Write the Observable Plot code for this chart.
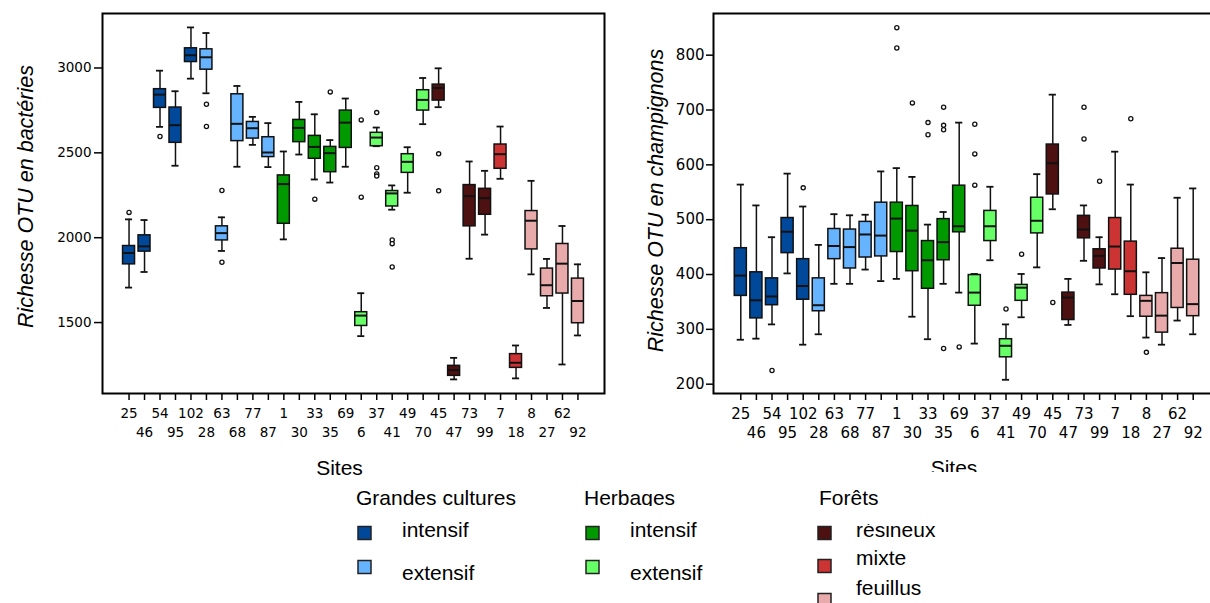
<!DOCTYPE html>
<html><head><meta charset="utf-8">
<script src="https://cdn.jsdelivr.net/npm/d3@7"></script>
<script src="https://cdn.jsdelivr.net/npm/@observablehq/plot@0.6"></script>
<style>
body{margin:0;background:#fff;}
#wrap{position:relative;width:1210px;height:603px;overflow:hidden;background:#fff;}
#left{position:absolute;left:0;top:0;width:620px;}
#right{position:absolute;left:630px;top:0;width:600px;}
#legend{position:absolute;left:0;top:0;}
</style></head><body>
<div id="wrap"><div id="left"></div><div id="right"></div><svg id="legend" width="1210" height="603"></svg></div>
<script>
// ---------- categories ----------
const sites = ["25","46","54","95","102","28","63","68","77","87","1","30","33","35","69","6","37","41","49","70","45","47","73","99","7","18","8","27","62","92"];
const groups = ["gc_int","gc_int","gc_int","gc_int","gc_int","gc_ext","gc_ext","gc_ext","gc_ext","gc_ext",
                "h_int","h_int","h_int","h_int","h_int","h_ext","h_ext","h_ext","h_ext","h_ext",
                "f_res","f_res","f_res","f_res","f_mix","f_mix","f_feu","f_feu","f_feu","f_feu"];
const groupKeys = ["gc_int","gc_ext","h_int","h_ext","f_res","f_mix","f_feu"];
const groupColors = ["#00489a","#66b3ff","#009900","#66ff66","#4d1111","#cc3333","#e8aaaa"];
const legendTitles = ["Grandes cultures","Herbages","Forêts"];
const legendLabels = [["intensif","extensif"],["intensif","extensif"],["résineux","mixte","feuillus"]];

// ---------- bacteria (left panel) ----------
const bacLo  = [1706,1798,2653,2424,2937,2851,1922,2418,2547,2416,1990,2490,2343,2325,2418,1420,2539,2165,2265,2669,2769,1165,1876,2018,2347,1171,1784,1586,1253,1424];
const bacQ1  = [1843,1918,2765,2559,3035,2990,1984,2569,2584,2475,2082,2563,2465,2386,2529,1480,2539,2184,2382,2749,2808,1186,2067,2135,2406,1233,1931,1655,1671,1496];
const bacMed = [1910,1949,2843,2663,3075,3063,2027,2671,2645,2502,2316,2647,2535,2498,2678,1541,2590,2261,2447,2812,2882,1220,2245,2233,2492,1263,2100,1720,1847,1627];
const bacQ3  = [1951,2014,2875,2767,3116,3110,2067,2845,2682,2592,2367,2694,2600,2535,2749,1561,2618,2275,2492,2869,2902,1245,2310,2288,2549,1314,2157,1818,1963,1759];
const bacHi  = [2108,2104,2984,2863,3239,3206,2120,2894,2712,2675,2508,2800,2727,2575,2820,1673,2649,2308,2533,2941,2998,1292,2449,2394,2655,1365,2335,1875,2069,1843];
const bacOut = [[2149],[],[2596],[],[],[2786,2655],[2278,1855],[],[],[],[],[],[2227],[2859],[],[2694,2239],[2737,2412,2376,2363],[1986,1965,1827],[],[],[2494,2276],[],[],[],[],[],[],[],[],[]];
const bacTicks = [1500,2000,2500,3000];

// ---------- fungi (right panel) ----------
const funLo  = [281,283,309,402,272,291,383,383,409,388,392,323,282,383,367,274,426,208,322,413,519,308,425,382,364,324,285,272,316,291];
const funQ1  = [361,320,344,439,354,333,428,411,431,433,441,406,374,426,477,343,461,249,352,475,546,317,466,411,409,363,323,294,339,324];
const funMed = [398,353,360,478,379,344,452,450,473,471,502,480,426,459,488,367,488,270,376,498,603,358,482,434,451,406,352,325,421,346];
const funQ3  = [448,404,393,503,428,393,483,482,496,531,531,525,461,501,562,399,516,282,381,540,637,367,507,446,503,460,361,366,447,427];
const funHi  = [564,526,468,584,524,454,510,508,509,588,594,578,491,514,677,401,560,309,401,583,728,392,526,468,624,564,404,430,540,557];
const funOut = [[],[],[225],[],[558],[],[],[],[],[],[850,813],[713],[677,655],[705,672,664,265],[268],[674,620,563],[],[337],[437],[],[349],[],[705,647],[570],[],[684],[258],[],[],[]];
const funTicks = [200,300,400,500,600,700,800];

function panel(o) {
  const rows = sites.map((s,i)=>({site:s, group:groups[i], lo:o.lo[i], q1:o.q1[i], med:o.med[i], q3:o.q3[i], hi:o.hi[i]}));
  const outs = sites.flatMap((s,i)=>o.out[i].map(v=>({site:s, v})));
  const even = sites.filter((d,i)=>i%2===0), odd = sites.filter((d,i)=>i%2===1);
  const ink = "#111";
  return Plot.plot({
    width:o.width, height:o.height, marginLeft:o.mL, marginRight:o.mR, marginTop:13, marginBottom:o.mB,
    style:{fontFamily:"DejaVu Sans", fontSize:o.fs+"px", color:"#000", background:"transparent", maxWidth:"none"},
    x:{type:"band", domain:sites, paddingInner:0, paddingOuter:o.po, round:false, axis:null},
    y:{domain:o.yDomain, axis:null},
    color:{type:"ordinal", domain:groupKeys, range:groupColors},
    marks:[
      Plot.ruleX(rows,{x:"site", y1:"q3", y2:"hi", stroke:ink, strokeWidth:1.5}),
      Plot.ruleX(rows,{x:"site", y1:"lo", y2:"q1", stroke:ink, strokeWidth:1.5}),
      Plot.tickY(rows,{x:"site", y:"hi", stroke:ink, strokeWidth:1.8, insetLeft:4.2, insetRight:4.2}),
      Plot.tickY(rows,{x:"site", y:"lo", stroke:ink, strokeWidth:1.8, insetLeft:4.2, insetRight:4.2}),
      Plot.barY(rows,{x:"site", y1:"q1", y2:"q3", fill:"group", stroke:ink, strokeWidth:1.5, insetLeft:1.75, insetRight:1.75}),
      Plot.tickY(rows,{x:"site", y:"med", stroke:ink, strokeWidth:2, insetLeft:1.75, insetRight:1.75}),
      Plot.dot(outs,{x:"site", y:"v", r:2.1, stroke:ink, fill:"white", strokeWidth:1.3}),
      Plot.frame({stroke:"#000", strokeWidth:2}),
      Plot.axisY(o.ticks,{anchor:"left", tickSize:o.ytick, tickPadding:o.ypad, tickFormat:d=>String(d), label:null, strokeWidth:1.5}),
      Plot.axisX(even,{anchor:"bottom", tickSize:7, tickPadding:8, label:null, strokeWidth:1.5}),
      Plot.axisX(odd,{anchor:"bottom", tickSize:7, tickPadding:27, label:null, strokeWidth:1.5}),
      Plot.text([o.yLabel],{text:d=>d, frameAnchor:"left", textAnchor:"middle", rotate:-90, dx:o.ydx, dy:o.ydy, fontFamily:"Liberation Sans", fontStyle:"italic", fontSize:21.5, lineAnchor:"middle", fill:"#000"}),
      Plot.text(["Sites"],{text:d=>d, frameAnchor:"bottom", textAnchor:"middle", dx:o.sdx, dy:74.3, fontFamily:"Liberation Sans", fontSize:21, lineAnchor:"middle", fill:"#000"})
    ]
  });
}

document.getElementById("left").append(panel({
  lo:bacLo, q1:bacQ1, med:bacMed, q3:bacQ3, hi:bacHi, out:bacOut, ticks:bacTicks,
  yDomain:[1082,3321], width:620, height:480, mL:102, mR:16, mB:87, po:1.215,
  fs:13.5, ytick:8, ypad:3, yLabel:"Richesse OTU en bactéries", ydx:-76, ydy:-7, sdx:-14
}));
document.getElementById("right").append(panel({
  lo:funLo, q1:funQ1, med:funMed, q3:funQ3, hi:funHi, out:funOut, ticks:funTicks,
  yDomain:[183,876], width:600, height:472, mL:83, mR:10, mB:79, po:1.25,
  fs:15, ytick:7, ypad:2, yLabel:"Richesse OTU en champignons", ydx:-57, ydy:-3, sdx:-13
}));

// ---------- legend ----------
const leg = d3.select("#legend");
const defs = leg.append("defs");
defs.append("clipPath").attr("id","clipH").append("rect").attr("x",560).attr("y",470).attr("width",160).attr("height",36);
defs.append("clipPath").attr("id","clipR").append("rect").attr("x",840).attr("y",524).attr("width",140).attr("height",40);
const cols = [
  {tx:356, sqx:358, lx:402, rows:[[526.5,537],[560.5,580]], keys:[0,1]},
  {tx:584, sqx:586, lx:630, rows:[[526.5,537],[560.5,580]], keys:[2,3]},
  {tx:819, sqx:818, lx:856, rows:[[526.5,537],[559.5,565],[593.5,595]], keys:[4,5,6]}
];
cols.forEach((c,ci)=>{
  const t = leg.append("text").attr("x",c.tx).attr("y",505).attr("font-family","Liberation Sans").attr("font-size",21).attr("fill","#000").text(legendTitles[ci]);
  if (ci===1) t.attr("clip-path","url(#clipH)");
  c.keys.forEach((k,ri)=>{
    leg.append("rect").attr("x",c.sqx).attr("y",c.rows[ri][0]).attr("width",13).attr("height",13)
      .attr("fill",groupColors[k]).attr("stroke","#222").attr("stroke-width",1.5);
    const lt = leg.append("text").attr("x",c.lx).attr("y",c.rows[ri][1]).attr("font-family","Liberation Sans").attr("font-size",21).attr("fill","#000").text(legendLabels[ci][ri]);
    if (ci===2 && ri===0) lt.attr("clip-path","url(#clipR)");
  });
});
</script></body></html>
